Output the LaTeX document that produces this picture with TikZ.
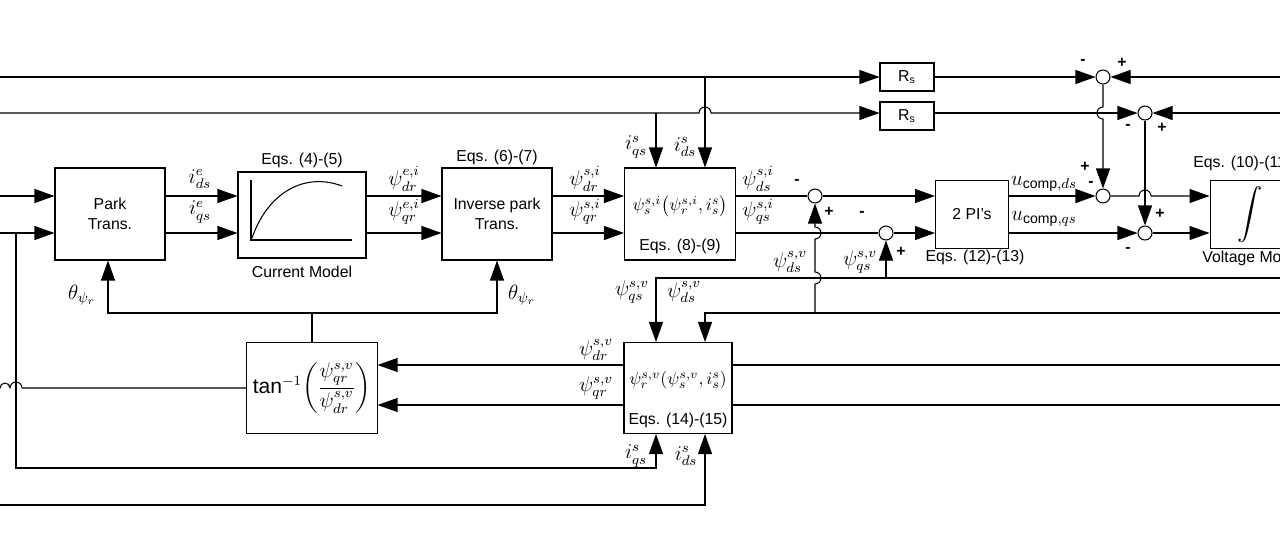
\documentclass[tikz,border=0pt]{standalone}
\usepackage{amsmath}
\usepackage{fontspec}
\setmainfont{Liberation Sans}
\usetikzlibrary{arrows.meta}

\tikzset{
  blk/.style={draw, minimum width=2.2cm, minimum height=1.84cm, align=center, font=\small},
  sumc/.style={draw, circle, inner sep=0pt, minimum size=0.28cm},
  sig/.style={-{Triangle[length=0.4cm,width=0.28cm]}},
  lbl/.style={font=\small},
  ml/.style={font=\large, inner sep=1pt}
}
\newcommand{\hopup}{arc[start angle=180,end angle=0,radius=0.12cm]}
\newcommand{\hopback}{arc[start angle=0,end angle=180,radius=0.12cm]}

\begin{document}
\begin{tikzpicture}[x=0.02cm,y=-0.02cm,line width=0.6pt]
    \useasboundingbox (0,0) rectangle (1280,545);

    % blocks
    \node[blk] (park) at (110,214) {Park\\Trans.};
    \node[blk, minimum width=2.56cm, minimum height=1.72cm] (cm) at (302,215) {};
    \node[blk] (inv) at (497,214) {Inverse park\\Trans.};
    \node[blk, minimum width=2.22cm] (eqa) at (680,214) {};
    \node[blk, minimum width=2.54cm, minimum height=1.82cm, font=\large] (tanb) at (312,388)
        {$\tan^{-1}\!\left(\dfrac{\psi^{s,v}_{qr}}{\psi^{s,v}_{dr}}\right)$};
    \node[blk, minimum width=2.16cm, minimum height=1.82cm] (eqb) at (678,388) {};
    \node[blk, minimum width=1.08cm, minimum height=0.56cm] (rsa) at (907,77) {R$_\mathrm{s}$};
    \node[blk, minimum width=1.08cm, minimum height=0.56cm] (rsb) at (907,116) {R$_\mathrm{s}$};
    \node[blk, minimum width=1.46cm, minimum height=1.36cm] (pi) at (972,214.5) {2 PI's};
    \node[blk, minimum width=1.6cm, minimum height=1.36cm] (integ) at (1250,214.5) {\Large$\displaystyle\int$};

    % summing points
    \node[sumc] (s1) at (1103,77) {};
    \node[sumc] (s2) at (1145,113) {};
    \node[sumc] (s3) at (1103,196) {};
    \node[sumc] (s4) at (1145,233) {};
    \node[sumc] (s5) at (815,196) {};
    \node[sumc] (s6) at (886,233) {};

    \coordinate (yd) at (0,196);
    \coordinate (yq) at (0,233);
    \coordinate (yr) at (0,365);
    \coordinate (ys) at (0,405);
    \coordinate (xq) at (656,0);
    \coordinate (xd) at (705,0);
    \coordinate (xp) at (108,0);

    % curve of current model
    \draw (251,180) -- (251,240) -- (352,240);
    \draw (252,238) .. controls (268,192) and (305,172) .. (342,186);

    % forward path
    \draw[sig] (yd) -- (park.west|-yd);
    \draw[sig] (yq) -- (park.west|-yq);
    \draw[sig] (park.east|-yd) -- (cm.west|-yd);
    \draw[sig] (park.east|-yq) -- (cm.west|-yq);
    \draw[sig] (cm.east|-yd) -- (inv.west|-yd);
    \draw[sig] (cm.east|-yq) -- (inv.west|-yq);
    \draw[sig] (inv.east|-yd) -- (eqa.west|-yd);
    \draw[sig] (inv.east|-yq) -- (eqa.west|-yq);
    \draw (eqa.east|-yd) -- (s5);
    \draw (eqa.east|-yq) -- (s6);
    \draw[sig] (s5) -- (pi.west|-yd);
    \draw[sig] (s6) -- (pi.west|-yq);
    \draw[sig] (pi.east|-yd) -- (s3);
    \draw[sig] (pi.east|-yq) -- (s4);
    \draw[sig] (s3) -- (1139,196) \hopup -- (integ.west|-yd);
    \draw[sig] (s4) -- (integ.west|-yq);

    % stator resistance paths
    \draw[sig] (0,77) -- (rsa);
    \draw[sig] (0,113) -- (699,113) \hopup -- (rsb.west|-s2);
    \draw[sig] (rsa) -- (s1);
    \draw[sig] (rsb.east|-s2) -- (s2);
    \draw[sig] (1280,77) -- (s1);
    \draw[sig] (1280,113) -- (s2);
    \draw[sig] (s1) -- (1103,107) arc[start angle=90,end angle=270,radius=0.12cm] -- (s3);
    \draw[sig] (s2) -- (s4);
    \draw[sig] (656,113) -- (eqa.north-|xq);
    \draw[sig] (705,77) -- (eqa.north-|xd);

    % voltage model fluxes
    \draw[sig] (1280,278) -- (656,278) -- (eqb.north-|xq);
    \draw[sig] (1280,313) -- (705,313) -- (eqb.north-|xd);
    \draw[sig] (886,278) -- (s6);
    \draw[sig] (815,313) -- (815,284) arc[start angle=-90,end angle=90,radius=0.12cm]
        -- (815,239) arc[start angle=-90,end angle=90,radius=0.12cm] -- (s5);
    \draw (1280,365) -- (eqb.east|-yr);
    \draw (1280,405) -- (eqb.east|-ys);
    \draw[sig] (eqb.west|-yr) -- (tanb.east|-yr);
    \draw[sig] (eqb.west|-ys) -- (tanb.east|-ys);

    % angle feedback
    \draw (tanb.north) -- (312,313);
    \draw[sig] (312,313) -- (108,313) -- (park.south-|xp);
    \draw[sig] (312,313) -- (497,313) -- (inv.south);
    \draw (tanb.west) -- (22,388) \hopback -- (10,388) arc[start angle=0,end angle=180,radius=0.1cm] -- (0,388);

    % current inputs of flux estimator
    \draw[sig] (16,233) -- (16,468) -- (656,468) -- (eqb.south-|xq);
    \draw[sig] (0,505) -- (705,505) -- (eqb.south-|xd);

    % labels
    \node[lbl] at (302,160) {Eqs. (4)-(5)};
    \node[lbl] at (302,272) {Current Model};
    \node[lbl] at (497,157) {Eqs. (6)-(7)};
    \node at (680,206) {$\psi^{s,i}_{s}\!\left(\psi^{s,i}_{r},i^{s}_{s}\right)$};
    \node[lbl] at (680,246) {Eqs. (8)-(9)};
    \node at (678,380) {$\psi^{s,v}_{r}\!\left(\psi^{s,v}_{s},i^{s}_{s}\right)$};
    \node[lbl] at (678,420) {Eqs. (14)-(15)};
    \node[lbl] at (975,257) {Eqs. (12)-(13)};
    \node[lbl, anchor=west] at (1187,163) {Eqs. (10)-(11)};
    \node[lbl, anchor=west] at (1196,258) {Voltage Model};

    \node[ml] at (200,179) {$i^{e}_{ds}$};
    \node[ml] at (200,212) {$i^{e}_{qs}$};
    \node[ml] at (404,179) {$\psi^{e,i}_{dr}$};
    \node[ml] at (404,212) {$\psi^{e,i}_{qr}$};
    \node[ml] at (585,179) {$\psi^{s,i}_{dr}$};
    \node[ml] at (585,212) {$\psi^{s,i}_{qr}$};
    \node[ml] at (758,179) {$\psi^{s,i}_{ds}$};
    \node[ml] at (758,212) {$\psi^{s,i}_{qs}$};
    \node[ml] at (636,147) {$i^{s}_{qs}$};
    \node[ml] at (685,147) {$i^{s}_{ds}$};
    \node[ml] at (790,262) {$\psi^{s,v}_{ds}$};
    \node[ml] at (860,262) {$\psi^{s,v}_{qs}$};
    \node[ml] at (1044,184) {$u_{\mathrm{comp},ds}$};
    \node[ml] at (1044,219) {$u_{\mathrm{comp},qs}$};
    \node[ml] at (82,295) {$\theta_{\psi_r}$};
    \node[ml] at (522,295) {$\theta_{\psi_r}$};
    \node[ml] at (632,292) {$\psi^{s,v}_{qs}$};
    \node[ml] at (684,292) {$\psi^{s,v}_{ds}$};
    \node[ml] at (596,350) {$\psi^{s,v}_{dr}$};
    \node[ml] at (596,388) {$\psi^{s,v}_{qr}$};
    \node[ml] at (636,456) {$i^{s}_{qs}$};
    \node[ml] at (686,456) {$i^{s}_{ds}$};

    % signs
    \node[lbl] at (797,182) {\textbf{-}};
    \node[lbl] at (829,212) {\textbf{+}};
    \node[lbl] at (862,214) {\textbf{-}};
    \node[lbl] at (901,252) {\textbf{+}};
    \node[lbl] at (1083,62) {\textbf{-}};
    \node[lbl] at (1122,63) {\textbf{+}};
    \node[lbl] at (1128,127) {\textbf{-}};
    \node[lbl] at (1162,128) {\textbf{+}};
    \node[lbl] at (1085,167) {\textbf{+}};
    \node[lbl] at (1091,184) {\textbf{-}};
    \node[lbl] at (1160,214) {\textbf{+}};
    \node[lbl] at (1128,250) {\textbf{-}};
\end{tikzpicture}
\end{document}
